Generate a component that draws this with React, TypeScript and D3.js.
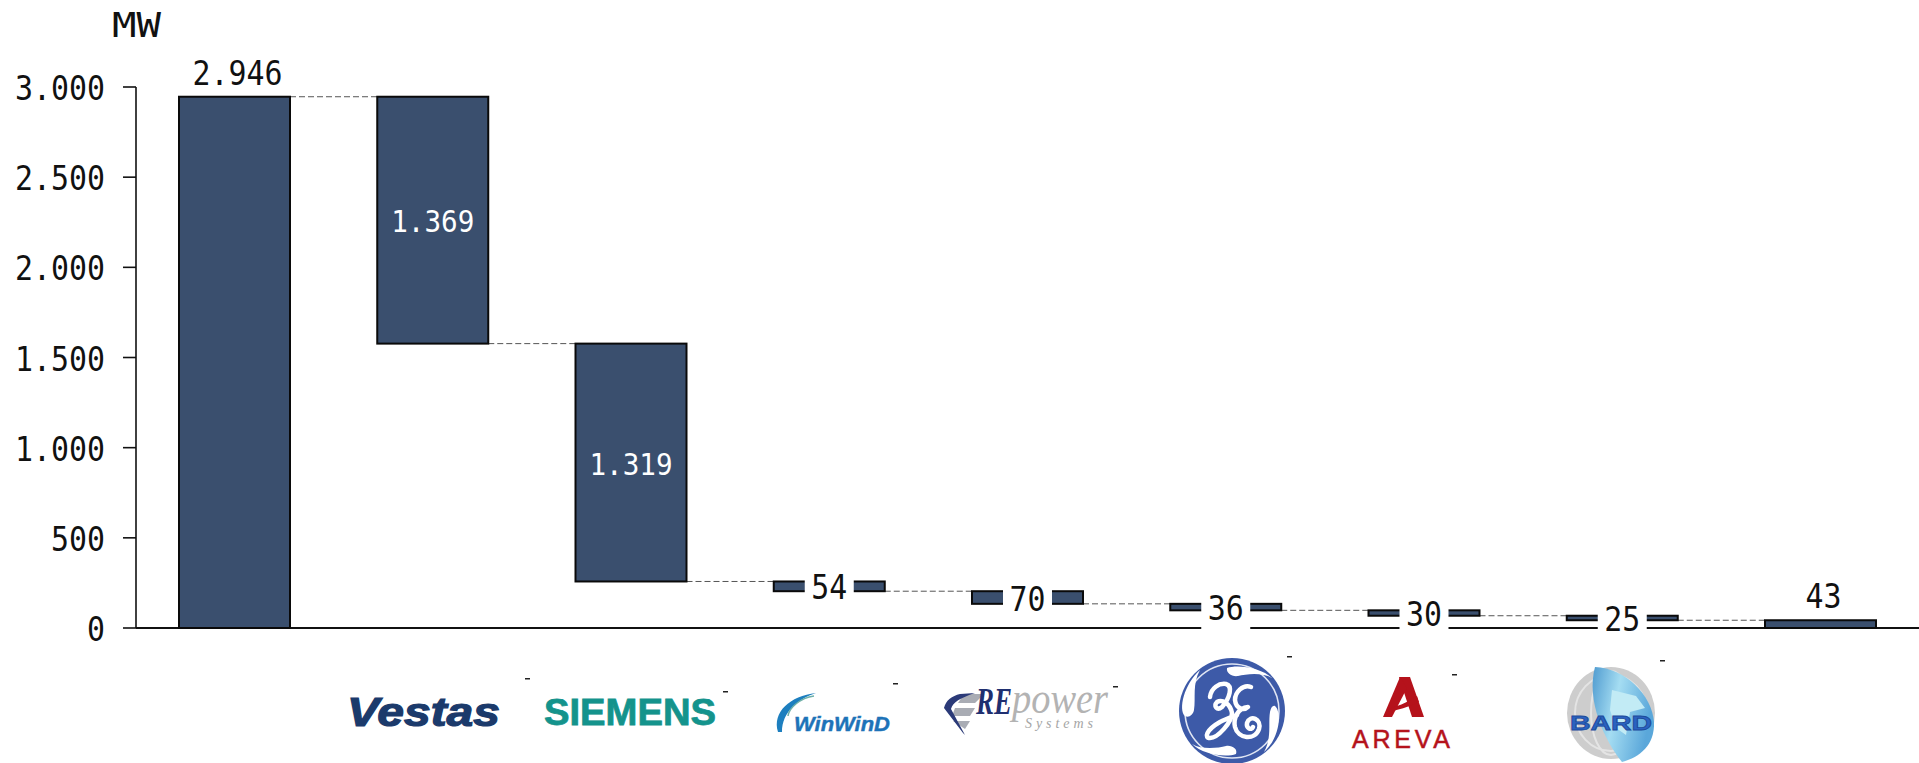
import React from "react";
import * as d3 from "d3";

const categories = ["Total", "Vestas", "Siemens", "WinWinD", "REpower", "GE", "Areva", "BARD", "Rest"];
const deltas = [2946, -1369, -1319, -54, -70, -36, -30, -25, 43];
const labels = ["2.946", "1.369", "1.319", "54", "70", "36", "30", "25", "43"];
const yTicks = [0, 500, 1000, 1500, 2000, 2500, 3000];
const yTickLabels = ["0", "500", "1.000", "1.500", "2.000", "2.500", "3.000"];

const FONT = "'DejaVu Sans Mono', monospace";
const NAVY = "#3a4f6e";
const INK = "#111";
const FS = 33;

let level = 0;
const segs = categories.map((c, i) => {
  let lo: number, hi: number;
  if (i === 0) { lo = 0; hi = deltas[0]; level = hi; }
  else if (i === categories.length - 1) { lo = 0; hi = deltas[i]; }
  else { hi = level; lo = level + deltas[i]; level = lo; }
  return { c, i, lo, hi, label: labels[i] };
});

function Label({ x, y, s, fill = INK, anchor = "middle", size = FS, char = 18 }: any) {
  const w = s.length * char;
  const left = anchor === "middle" ? x - w / 2 : anchor === "end" ? x - w : x;
  return (
    <text x={left} y={y} fontSize={size} fill={fill} textLength={w} lengthAdjust="spacingAndGlyphs">{s}</text>
  );
}

export default function App() {
  const y = d3.scaleLinear().domain([0, 3000]).range([628, 87]);
  const bw = 111;
  const x = d3.scaleBand<string>().domain(categories).range([179, 179 + 198.25 * 8 + bw]).paddingInner(1 - bw / 198.25).paddingOuter(0);
  const ax = 136;
  return (
    <svg width={1919} height={763} style={{ position: "absolute", left: 0, top: 0, background: "#fff" }} fontFamily={FONT}>
      <defs>
        <linearGradient id="bardG" x1="0" x2="1" y1="0" y2="0.3">
          <stop offset="0" stopColor="#4f9bd0" />
          <stop offset="0.45" stopColor="#a5ddf2" />
          <stop offset="1" stopColor="#5aa7da" />
        </linearGradient>
      </defs>
      {/* y axis */}
      <line x1={ax} x2={ax} y1={y(3000)} y2={y(0)} stroke={INK} strokeWidth={1.6} />
      <line x1={ax} x2={1919} y1={y(0)} y2={y(0)} stroke={INK} strokeWidth={2} />
      {yTicks.map((t, i) => (
        <g key={t}>
          <line x1={123} x2={ax} y1={y(t)} y2={y(t)} stroke={INK} strokeWidth={1.6} />
          <Label x={105} y={y(t) + 13} s={yTickLabels[i]} anchor="end" />
        </g>
      ))}
      <text x={112} y={37} fontSize={FS} fill={INK} textLength={49} lengthAdjust="spacingAndGlyphs">MW</text>

      {/* connectors */}
      {segs.slice(0, -1).map((s, i) => {
        const lev = i === 0 ? s.hi : s.lo;
        return <line key={s.c} x1={x(s.c)! + bw} x2={x(categories[i + 1])!} y1={y(lev)} y2={y(lev)} stroke="#555" strokeWidth={1} strokeDasharray="6 3" />;
      })}

      {/* bars */}
      {segs.map((s) => (
        <rect key={s.c} x={x(s.c)!} width={bw} y={y(s.hi)} height={y(s.lo) - y(s.hi)} fill={NAVY} stroke="#0a0a0a" strokeWidth={2} />
      ))}

      {/* labels */}
      {segs.map((s) => {
        const cx = x(s.c)! + bw / 2;
        if (s.i === 0 || s.i === categories.length - 1) {
          return <Label key={s.c} x={cx + 3} y={y(s.hi) - 12} s={s.label} />;
        }
        const cy = y((s.lo + s.hi) / 2);
        if (s.i <= 2) {
          return <Label key={s.c} x={cx} y={cy + 12} s={s.label} fill="#fff" size={31} char={16.6} />;
        }
        return (
          <g key={s.c}>
            <rect x={cx - 24.5} width={49} y={cy - 22} height={44} fill="#fff" />
            <Label x={cx} y={cy + 13} s={s.label} />
          </g>
        );
      })}

      {/* logos */}
      <g>
        <text x={347} y={726} fontFamily="'Liberation Sans'" fontWeight={700} fontStyle="italic" fontSize={40} fill="#1b3a6b" stroke="#1b3a6b" strokeWidth={1.2} textLength={153} lengthAdjust="spacingAndGlyphs">Vestas</text>
        <text x={544} y={725} fontFamily="'Liberation Sans'" fontWeight={700} fontSize={37} fill="#14938c" stroke="#14938c" strokeWidth={0.8} textLength={172} lengthAdjust="spacingAndGlyphs">SIEMENS</text>
        <g>
          <path d="M778 732 C772 712 790 696 816 693 C798 699 782 712 782 732 Z" fill="#1d7fbf" />
          <path d="M788 716 C789 708 800 698 814 696" fill="none" stroke="#6fb0a8" strokeWidth={1.5} />
          <text x={794} y={731} fontFamily="'Liberation Sans'" fontWeight={700} fontStyle="italic" fontSize={20} fill="#1e73b8" stroke="#1e73b8" strokeWidth={0.4} textLength={96} lengthAdjust="spacingAndGlyphs">WinWinD</text>
        </g>
        <g>
          <path d="M964 694 L984 694 L975 703 L958 703 Z M955 708 L975 708 L970 716 L952 716 Z M953 721 L970 721 L965 729 Z" fill="#a9acb4" />
          <path d="M975 693 L960 694 C952 696 946 700 944 708 L963 733 L965 735 L951 709 C953 702 960 698 975 693 Z" fill="#2b3a78" />
          <text x={976} y={714} fontFamily="'Liberation Serif'" fontStyle="italic" fontWeight={700} fontSize={37} fill="#1f2f70" textLength={36} lengthAdjust="spacingAndGlyphs">RE</text>
          <text x={1012} y={713} fontFamily="'Liberation Serif'" fontStyle="italic" fontSize={44} fill="#b3b3b3" textLength={96} lengthAdjust="spacingAndGlyphs">power</text>
          <text x={1025} y={728} fontFamily="'Liberation Serif'" fontStyle="italic" fontSize={14} fill="#a5a5a5" textLength={68}>Systems</text>
        </g>
        <g>
          <circle cx={1232} cy={711} r={53} fill="#3d5aa8" />
          <circle cx={1232} cy={711} r={47} fill="none" stroke="#dfe5f3" strokeWidth={1.6} />
          <path d="M1227 668 C1238 664,1262 668,1272 678 C1262 672,1246 674,1238 676 C1232 677,1226 673,1227 668 Z" fill="#fff" />
          <path d="M1275 706 C1282 712,1280 738,1264 752 C1272 738,1268 724,1270 712 C1271 707,1273 705,1275 706 Z" fill="#fff" />
          <path d="M1185 716 C1178 710,1184 684,1200 670 C1192 684,1196 698,1194 710 C1193 715,1189 718,1185 716 Z" fill="#fff" />
          <path d="M1236 754 C1225 758,1202 754,1192 744 C1202 750,1218 748,1226 746 C1232 745,1238 749,1236 754 Z" fill="#fff" />
          <g fill="none" stroke="#fff" strokeWidth={4.5} strokeLinecap="round" strokeLinejoin="round">
            <path d="M1210 697 C1211 688,1219 683,1226 684 C1233 686,1230 698,1222 707 C1217 711,1213 706,1217 702 C1222 699,1230 703,1232 713 C1232 722,1218 738,1210 738 C1204 738,1206 730,1220 722 C1226 719,1232 717,1237 715" />
            <path d="M1251 687 C1243 684,1235 692,1235 700 C1236 709,1244 711,1248 707 C1238 708,1233 718,1235 727 C1238 739,1255 741,1259 729 C1262 719,1250 714,1247 723 C1246 728,1251 731,1253 727" />
          </g>
        </g>
        <g fill="#b5121b">
          <path d="M1399 677 L1410 677 L1424 717 L1412 717 Z" />
          <path d="M1400 677 L1383 717 L1392 717 L1407 688 Z" />
          <path d="M1388 709 C1396 707 1406 703 1417 696 L1419 702 C1408 707 1398 710 1388 712 Z" />
          <text x={1352} y={748} fontFamily="'Liberation Sans'" fontSize={25} stroke="#b5121b" strokeWidth={0.5} textLength={98}>AREVA</text>
        </g>
        <g>
          <ellipse cx={1611} cy={713} rx={44} ry={46} fill="#cdcdcd" />
          <ellipse cx={1611} cy={713} rx={36} ry={38} fill="none" stroke="#e4e4e4" strokeWidth={2} />
          <ellipse cx={1611} cy={713} rx={20} ry={42} fill="none" stroke="#e4e4e4" strokeWidth={2} />
          <path d="M1595 667 C1625 668 1652 695 1654 722 C1655 745 1640 757 1622 762 C1604 740 1586 700 1595 667 Z" fill="url(#bardG)" />
          <path d="M1612 690 L1636 696 L1645 708 L1630 712 L1626 735 L1616 728 L1610 710 Z" fill="#c2ebf5" />
          <text x={1570} y={730} fontFamily="'Liberation Sans'" fontWeight={700} fontSize={21} fill="#2a62c0" stroke="#1d4a9a" strokeWidth={0.8} textLength={82} lengthAdjust="spacingAndGlyphs">BARD</text>
        </g>
        {[[525, 678], [723, 691], [893, 683], [1113, 686], [1287, 656], [1452, 674], [1660, 660]].map(([a, b]) => (
          <rect key={a} x={a} y={b} width={5} height={1.5} fill="#222" />
        ))}
      </g>
    </svg>
  );
}
